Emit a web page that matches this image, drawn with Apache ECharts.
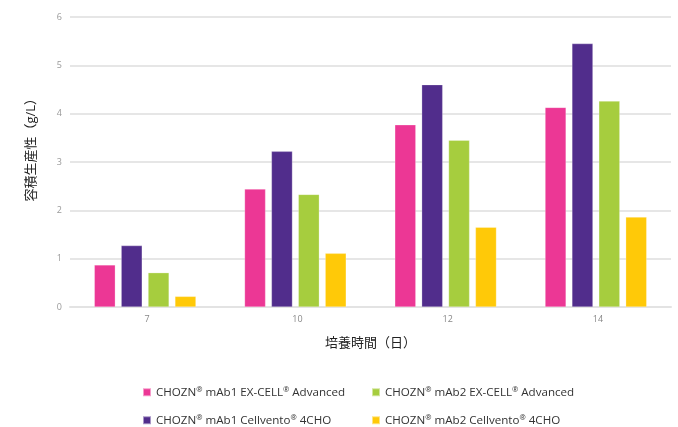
<!DOCTYPE html>
<html>
<head>
<meta charset="utf-8">
<script src="https://cdn.jsdelivr.net/npm/echarts@6/dist/echarts.min.js"></script>
<style>
  html, body { margin: 0; padding: 0; background: #fff; }
  #chart { width: 678px; height: 427px; }
</style>
</head>
<body>
<div id="chart"></div>
<script>
// Culture days on the x axis
const days = ['7', '10', '12', '14'];

// Volumetric productivity (g/L) per clone / medium
const mab1ExcellAdvanced = [0.87, 2.44, 3.77, 4.13];
const mab1Cellvento4cho  = [1.27, 3.22, 4.60, 5.45];
const mab2ExcellAdvanced = [0.71, 2.33, 3.45, 4.26];
const mab2Cellvento4cho  = [0.22, 1.11, 1.65, 1.86];

// Y-axis ticks
const yTicks = [0, 1, 2, 3, 4, 5, 6];

const seriesNames = [
  'CHOZN® mAb1 EX-CELL® Advanced',
  'CHOZN® mAb1 Cellvento® 4CHO',
  'CHOZN® mAb2 EX-CELL® Advanced',
  'CHOZN® mAb2 Cellvento® 4CHO'
];
const seriesValues = [mab1ExcellAdvanced, mab1Cellvento4cho, mab2ExcellAdvanced, mab2Cellvento4cho];
const colors = ['#ec3795', '#512d8c', '#a6cd3e', '#ffc908'];

const chart = echarts.init(document.getElementById('chart'), null, { renderer: 'canvas' });

const fontFamily = '"Open Sans", "Noto Sans", "Noto Sans CJK JP", sans-serif';

// Registered marks drawn as small raised glyphs
function legendFormatter(name) {
  return name.split('®').join('{sup|®}');
}
const legendText = {
  color: '#333',
  fontSize: 11.6,
  fontFamily: fontFamily,
  rich: {
    sup: { fontSize: 7.5, color: '#333', fontFamily: fontFamily, padding: [0, 0, 5, 0] }
  }
};

// One legend entry per slot so the two columns line up
const legendSlots = [
  { name: seriesNames[0], left: 142, top: 386 },
  { name: seriesNames[2], left: 371, top: 386 },
  { name: seriesNames[1], left: 142, top: 414 },
  { name: seriesNames[3], left: 371, top: 414 }
];

const option = {
  backgroundColor: '#ffffff',
  animation: false,
  grid: { left: 70, right: 7, top: 17, bottom: 120, containLabel: false },
  legend: legendSlots.map(s => ({
    data: [s.name],
    left: s.left,
    top: s.top,
    orient: 'horizontal',
    icon: 'rect',
    itemWidth: 8,
    itemHeight: 8,
    itemGap: 0,
    padding: 0,
    selectedMode: false,
    formatter: legendFormatter,
    textStyle: legendText
  })),
  xAxis: {
    type: 'category',
    data: days,
    name: '培養時間（日）',
    nameLocation: 'middle',
    nameGap: 30,
    nameTextStyle: { color: '#222', fontSize: 13, fontFamily: fontFamily },
    axisLine: { show: true, lineStyle: { color: '#e3e3e3', width: 2 } },
    axisTick: { show: false },
    axisLabel: { color: '#888', fontSize: 9, margin: 8, fontFamily: fontFamily, padding: [0, 0, 0, 4] }
  },
  yAxis: {
    type: 'value',
    min: yTicks[0],
    max: yTicks[yTicks.length - 1],
    interval: 1,
    axisLine: { show: false },
    axisTick: { show: false },
    axisLabel: { color: '#999', fontSize: 9, margin: 8, fontFamily: fontFamily },
    splitLine: { lineStyle: { color: '#e6e6e6', width: 2 } }
  },
  graphic: [{
    type: 'text',
    left: 25,
    top: 92,
    rotation: Math.PI / 2,
    style: {
      text: '容積生産性（g/L）',
      fill: '#222',
      fontSize: 13,
      fontFamily: fontFamily
    }
  }],
  series: seriesNames.map((name, i) => ({
    name: name,
    type: 'bar',
    data: seriesValues[i],
    barWidth: 21,
    barGap: '28%',
    itemStyle: { color: colors[i], borderColor: 'rgba(255,255,255,0.5)', borderWidth: 0.5 }
  }))
};

chart.setOption(option);
</script>
</body>
</html>
